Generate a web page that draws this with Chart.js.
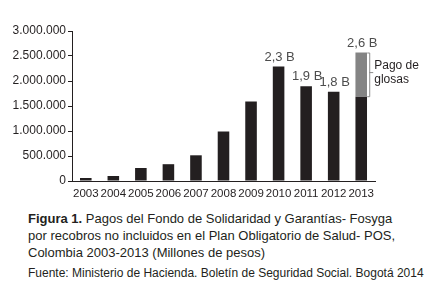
<!DOCTYPE html>
<html>
<head>
<meta charset="utf-8">
<title>Pagos Fosyga</title>
<script src="https://cdn.jsdelivr.net/npm/chart.js"></script>
<style>
  body { margin: 0; background: #fff; width: 425px; height: 287px; overflow: hidden; font-family: "Liberation Sans", Arial, sans-serif; color: #231f20; }
  #wrap { position: absolute; left: 0; top: 0; width: 425px; height: 200px; }
  .cap { position: absolute; left: 28px; font-size: 13px; line-height: 17px; white-space: nowrap; }
  .src { position: absolute; left: 28px; top: 266px; font-family: "Liberation Sans Narrow", "Liberation Sans", sans-serif; font-size: 12px; white-space: nowrap; }
</style>
</head>
<body>
<div id="wrap"><canvas id="myChart"></canvas></div>
<div class="cap" style="top:210px"><b>Figura 1.</b> Pagos del Fondo de Solidaridad y Garantías- Fosyga<br>por recobros no incluidos en el Plan Obligatorio de Salud- POS,<br>Colombia 2003-2013 (Millones de pesos)</div>
<div class="src">Fuente: Ministerio de Hacienda. Boletín de Seguridad Social. Bogotá 2014</div>

<script>
// datos
var years = ["2003", "2004", "2005", "2006", "2007", "2008", "2009", "2010", "2011", "2012", "2013"];
var pagos = [60000, 100000, 260000, 336000, 514000, 990000, 1590000, 2290000, 1895000, 1785000, 1686000];
var glosas = [0, 0, 0, 0, 0, 0, 0, 0, 0, 0, 884000];
var topLabels = ["", "", "", "", "", "", "", "2,3 B", "1,9 B", "1,8 B", "2,6 B"];
var yTicks = [0, 500000, 1000000, 1500000, 2000000, 2500000, 3000000];
var bracketText = ["Pago de", "glosas"];

function fmt(v) {
    return String(v).replace(/\B(?=(\d{3})+(?!\d))/g, ".");
}

// etiquetas sobre las barras y la llave de "Pago de glosas"
var labelPlugin = {
    id: "labels",
    afterDatasetsDraw: function(chart) {
        var ctx = chart.ctx;
        var y = chart.scales.y;
        var x = chart.scales.x;
        ctx.save();
        ctx.font = "13px 'Liberation Sans', Arial, sans-serif";
        ctx.fillStyle = "#4d4d4d";
        ctx.textAlign = "center";
        ctx.textBaseline = "bottom";
        topLabels.forEach(function(t, i) {
            if (!t) return;
            var px = x.getPixelForValue(i);
            var py = y.getPixelForValue(pagos[i] + glosas[i]);
            ctx.fillText(t, px + 1, py - 3);
        });
        // llave
        var last = years.length - 1;
        var bx = x.getPixelForValue(last) + 8;
        var yTop = y.getPixelForValue(pagos[last] + glosas[last]);
        var yBot = y.getPixelForValue(pagos[last]);
        var yMid = (yTop + yBot) / 2;
        ctx.strokeStyle = "#8c8c8c";
        ctx.lineWidth = 1;
        ctx.beginPath();
        ctx.moveTo(bx - 2, yTop + 0.5);
        ctx.lineTo(bx + 0.5, yTop + 0.5);
        ctx.lineTo(bx + 0.5, yBot);
        ctx.lineTo(bx - 2, yBot);
        ctx.moveTo(bx, yMid - 2);
        ctx.lineTo(bx + 4, yMid - 2);
        ctx.stroke();
        ctx.fillStyle = "#231f20";
        ctx.font = "12px 'Liberation Sans', Arial, sans-serif";
        ctx.textAlign = "left";
        ctx.textBaseline = "middle";
        ctx.fillText(bracketText[0], bx + 5, yMid - 9);
        ctx.fillText(bracketText[1], bx + 5, yMid + 5);
        ctx.restore();
    }
};

var ctx = document.getElementById("myChart").getContext("2d");
new Chart(ctx, {
    type: "bar",
    data: {
        labels: years,
        datasets: [
            { label: "Pagos", data: pagos, backgroundColor: "#231f20", categoryPercentage: 1, barPercentage: 0.42 },
            { label: "Pago de glosas", data: glosas, backgroundColor: "#848484", categoryPercentage: 1, barPercentage: 0.42 }
        ]
    },
    options: {
        responsive: true,
        maintainAspectRatio: false,
        animation: false,
        layout: { padding: { top: 31, right: 50, left: 0, bottom: 0 } },
        plugins: {
            legend: { display: false },
            tooltip: { enabled: false }
        },
        scales: {
            x: {
                stacked: true,
                grid: { display: false, drawTicks: false },
                border: { color: "#231f20", width: 1 },
                ticks: { color: "#231f20", font: { size: 11.5, family: "'Liberation Sans', Arial, sans-serif" }, padding: 6, maxRotation: 0, autoSkip: false },
                afterFit: function(s) { s.height = 19; }
            },
            y: {
                stacked: true,
                min: 0,
                max: 3000000,
                afterBuildTicks: function(s) { s.ticks = yTicks.map(function(v) { return { value: v }; }); },
                grid: { drawOnChartArea: false, tickLength: 4, color: "#231f20" },
                border: { color: "#231f20", width: 1 },
                ticks: { color: "#231f20", font: { size: 12, family: "'Liberation Sans', Arial, sans-serif" }, padding: 2, callback: function(v) { return fmt(v); } },
                afterFit: function(s) { s.width = 72; }
            }
        }
    },
    plugins: [labelPlugin]
});
</script>
</body>
</html>
